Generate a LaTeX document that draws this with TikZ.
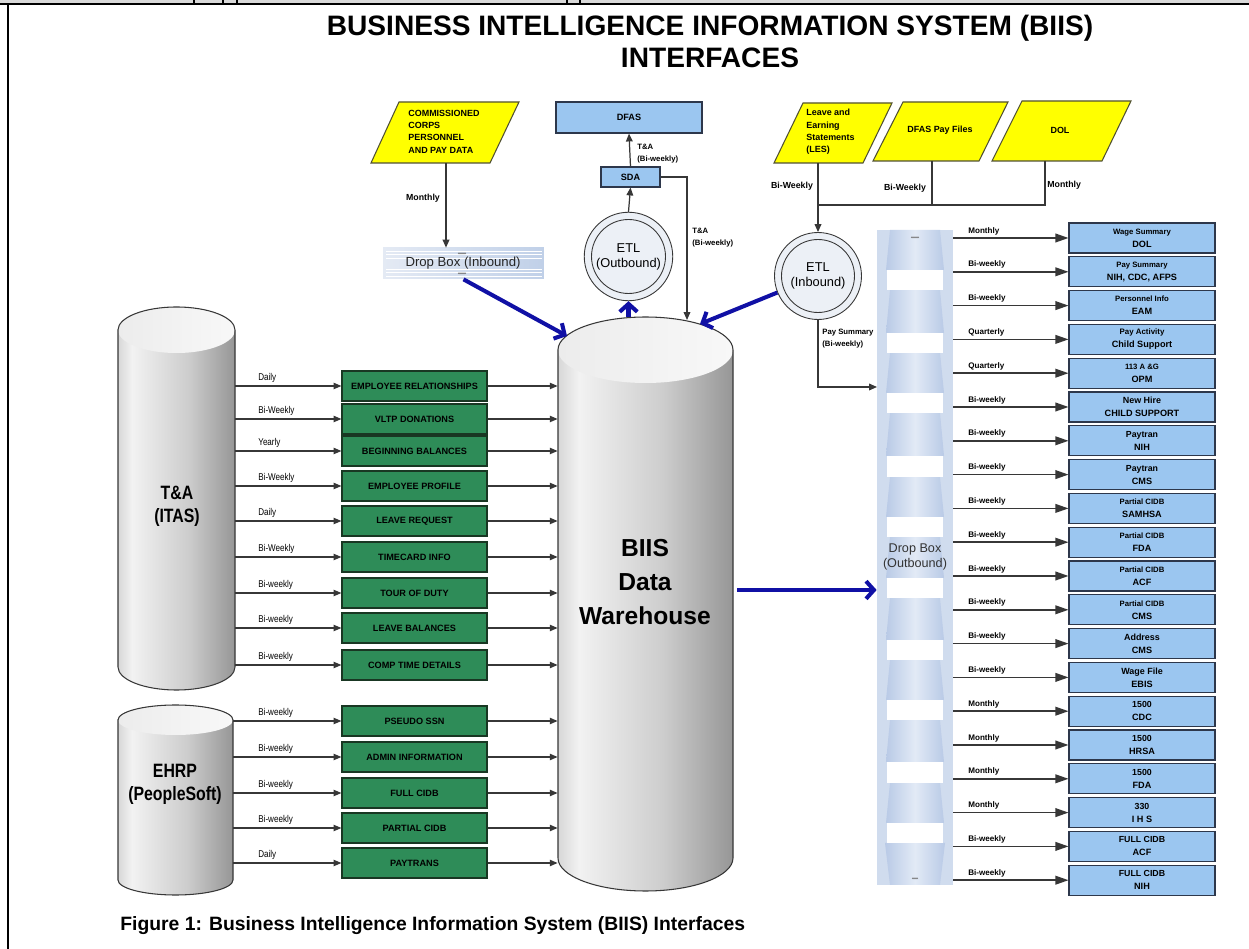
\documentclass[tikz,border=0pt]{standalone}
\usepackage{fontspec}
\setmainfont{Liberation Sans}
\newfontfamily\narrowsans[FakeStretch=0.82]{Liberation Sans}
\usetikzlibrary{arrows.meta}
\definecolor{paraYellow}{RGB}{255,255,0}
\definecolor{paraEdge}{RGB}{80,80,50}
\definecolor{boxBlue}{RGB}{155,198,240}
\definecolor{boxEdge}{RGB}{45,55,75}
\definecolor{boxGreen}{RGB}{46,140,88}
\definecolor{greenEdge}{RGB}{25,55,35}
\definecolor{flowBlue}{RGB}{16,16,165}
\definecolor{lineGray}{RGB}{55,55,55}
\definecolor{cylA}{RGB}{215,215,215}
\definecolor{cylB}{RGB}{242,242,242}
\definecolor{cylC}{RGB}{205,205,205}
\definecolor{cylD}{RGB}{150,150,150}
\definecolor{cylTopL}{RGB}{236,236,236}
\definecolor{cylTopR}{RGB}{248,248,248}
\definecolor{etlFill}{RGB}{236,240,246}
\definecolor{dbOuter}{RGB}{208,220,238}
\definecolor{dbEdge}{RGB}{185,202,230}
\definecolor{dbMid}{RGB}{226,234,246}
\definecolor{dibL}{RGB}{228,234,244}
\definecolor{dibR}{RGB}{192,208,232}
\definecolor{stripBg}{RGB}{217,217,217}
\pgfdeclarehorizontalshading{cylshade}{100bp}{color(0bp)=(cylA); color(25bp)=(cylA); color(31bp)=(cylB); color(55bp)=(cylC); color(75bp)=(cylD); color(100bp)=(cylD)}
\newcommand\boxlines[3]{{\fontsize{#1}{7.4}\selectfont #2}\\#3}
\newcommand\cylshape[5]{%
  \pgfmathsetmacro\cylrx{(#2-#1)/2}%
  \pgfmathsetmacro\cylxc{(#2+#1)/2}%
  \path[shading=cylshade] (#1,#3) -- (#1,#4) arc[start angle=180,end angle=0,x radius=\cylrx,y radius=#5] -- (#2,#3) arc[start angle=0,end angle=-180,x radius=\cylrx,y radius=#5] -- cycle;
  \shade[left color=cylTopL, right color=cylTopR] (\cylxc,#3) ellipse[x radius=\cylrx,y radius=#5];
  \path[cyledge] (#1,#3) -- (#1,#4) arc[start angle=180,end angle=0,x radius=\cylrx,y radius=#5] -- (#2,#3) arc[start angle=0,end angle=-180,x radius=\cylrx,y radius=#5] -- cycle;
}
\tikzset{
  thinline/.style={draw=lineGray, line width=0.7pt},
  tarrow/.style={thinline, -{Triangle[length=4.5pt,width=3.8pt]}},
  larrow/.style={draw=lineGray, line width=0.75pt, -{Triangle[length=4.5pt,width=3.6pt]}},
  rarrow/.style={draw=lineGray, line width=0.85pt, -{Triangle[length=7.5pt,width=5pt]}},
  flow/.style={draw=flowBlue, line width=2.3pt, -{Straight Barb[length=4.5pt,width=10pt]}},
  greenbox/.style={draw=greenEdge, line width=0.6pt, fill=boxGreen, minimum width=2.9cm, minimum height=0.6cm, inner sep=0pt, font=\bfseries\fontsize{5.2}{6}\selectfont},
  bluebox/.style={draw=boxEdge, line width=0.6pt, fill=boxBlue, minimum width=2.92cm, minimum height=0.6cm, inner sep=0pt, align=center, font=\bfseries\fontsize{5.2}{7.4}\selectfont},
  paraedge/.style={draw=paraEdge, line width=0.6pt, fill=paraYellow},
  paratext/.style={font=\bfseries\fontsize{5.1}{7}\selectfont, inner sep=0pt},
  llabel/.style={font=\narrowsans\fontsize{5.6}{6}\selectfont, inner sep=0pt, anchor=west},
  rlabel/.style={font=\bfseries\fontsize{4.6}{5}\selectfont, inner sep=0pt, anchor=west},
  smalllabel/.style={font=\bfseries\fontsize{4.4}{6.8}\selectfont, inner sep=0pt, align=left, anchor=west},
  midlabel/.style={font=\bfseries\fontsize{5}{6}\selectfont, inner sep=0pt},
  cyltext/.style={font=\narrowsans\bfseries\fontsize{11}{13}\selectfont, align=center, inner sep=0pt},
  etltext/.style={font=\fontsize{7.3}{8.5}\selectfont, align=center, inner sep=0pt},
  cyledge/.style={draw=lineGray, line width=0.6pt},
  holder/.style={draw=none, inner sep=0pt},
  bluesmall/.style={draw=boxEdge, line width=0.6pt, fill=boxBlue, inner sep=0pt, font=\bfseries\fontsize{5.2}{6}\selectfont},
}
\begin{document}
\begin{tikzpicture}[x=0.02cm,y=-0.02cm]
\useasboundingbox (0,0) rectangle (1249,949);
\fill[white] (0,0) rectangle (1249,949);
% frame remnants
\fill[stripBg] (0,0) rectangle (1249,4);
\draw[line width=1pt] (0,4) -- (1249,4);
\foreach \xx in {194,223,237,567,580} \draw[line width=0.6pt] (\xx,0) -- (\xx,4);
\draw[line width=1.1pt] (8,4) -- (8,949);

% title and caption
\node[font=\bfseries\fontsize{16}{18.2}\selectfont, align=center, inner sep=0pt] (title) at (710,41) {BUSINESS INTELLIGENCE INFORMATION SYSTEM (BIIS)\\INTERFACES};
\node[font=\bfseries\fontsize{11}{13}\selectfont, anchor=west, inner sep=0pt] (caption) at (120,926) {Figure 1: Business Intelligence Information System (BIIS) Interfaces};

% cylinders
\cylshape{118}{235}{330}{667}{23}
\cylshape{118}{233}{720}{880}{15}
\cylshape{558}{733}{350}{858}{33}
\node[holder, minimum width=2.34cm, minimum height=6.74cm] (ta) at (176.5,498.5) {};
\node[holder, minimum width=2.3cm, minimum height=3.2cm] (ehrp) at (175.5,800) {};
\node[holder, minimum width=3.5cm, minimum height=10.16cm] (biis) at (645.5,604) {};
\node[cyltext] (tatxt) at (177,506.5) {T\&A\\(ITAS)};
\node[cyltext] (ehrptxt) at (175,784.5) {EHRP\\(PeopleSoft)};
\node[font=\bfseries\fontsize{14}{19.5}\selectfont, align=center, inner sep=0pt] (biistxt) at (645,582) {BIIS\\Data\\Warehouse};

% yellow sources
\path[paraedge] (371,163) -- (399,102) -- (519,102) -- (490,163) -- cycle;
\path[paraedge] (774,163) -- (803,103) -- (892,103) -- (863,163) -- cycle;
\path[paraedge] (873,161) -- (903,102) -- (1008,102) -- (979,161) -- cycle;
\path[paraedge] (992,161) -- (1022,101) -- (1131,101) -- (1102,161) -- cycle;
\node[paratext, align=left, anchor=west] (cctxt) at (408,131.5) {COMMISSIONED\\CORPS\\PERSONNEL\\AND PAY DATA};
\node[paratext, align=left, anchor=west] (lestxt) at (806,132) {Leave and\\Earning\\Statements\\(LES)};
\node[paratext] (dfptxt) at (940,130) {DFAS Pay Files};
\node[paratext] (doltxt) at (1060,130) {DOL};
\coordinate (ccb) at (446,163);
\coordinate (lesb) at (818,163);
\coordinate (dfpb) at (932,161);
\coordinate (dolb) at (1045,161);
\coordinate (junc) at (818,205);

% drop box inbound
\node[holder, minimum width=3.22cm, minimum height=0.62cm, left color=dibL, right color=dibR] (dropin) at (463.5,263.5) {};
\foreach \yy in {251,254.5,258,269,272.5,276} \draw[white, line width=0.5pt] (386,\yy) -- (542,\yy);
\node[font=\fontsize{7.5}{9}\selectfont, inner sep=0pt, text=black!85] (dropintxt) at (463,263.5) {Drop Box (Inbound)};
\draw[black!55, line width=0.3pt] (458,254) -- (459,252.8) -- (460,254) -- (461,252.8) -- (462,254) -- (463,252.8) -- (464,254) -- (465,252.8) -- (466,254);
\draw[black!55, line width=0.3pt] (458,274) -- (459,272.8) -- (460,274) -- (461,272.8) -- (462,274) -- (463,272.8) -- (464,274) -- (465,272.8) -- (466,274);

% DFAS / SDA / ETL outbound
\node[bluesmall, minimum width=2.92cm, minimum height=0.62cm] (dfas) at (629,117.5) {DFAS};
\node[bluesmall, minimum width=1.18cm, minimum height=0.4cm] (sda) at (630.5,177) {SDA};
\node[circle, draw=lineGray, line width=0.5pt, fill=etlFill, minimum size=1.77cm, inner sep=0pt] (etlout) at (628.5,256.5) {};
\node[circle, draw=lineGray, line width=0.5pt, minimum size=1.48cm, inner sep=0pt, etltext] (etloutin) at (628.5,256.5) {ETL\\(Outbound)};
\node[circle, draw=lineGray, line width=0.5pt, fill=etlFill, minimum size=1.74cm, inner sep=0pt] (etlin) at (818,276) {};
\node[circle, draw=lineGray, line width=0.5pt, minimum size=1.46cm, inner sep=0pt, etltext] (etlinin) at (818,276) {ETL\\(Inbound)};

% drop box outbound
\node[holder, fill=dbOuter, minimum width=1.52cm, minimum height=13.1cm] (dropout) at (915,557.5) {};
\foreach \ya/\yb in {230/270, 290/333, 353/393, 413/456, 477/517, 537/578, 598/640, 660/700, 720/762, 783/823}
  \shade[left color=dbEdge, right color=dbEdge, middle color=dbMid] (890,\ya) -- (940,\ya) -- (944,\yb) -- (886,\yb) -- cycle;
\shade[left color=dbEdge, right color=dbEdge, middle color=dbMid] (885,843) -- (945,843) -- (940,885) -- (890,885) -- cycle;
\foreach \ya/\yb in {270/290, 333/353, 393/413, 456/477, 517/537, 578/598, 640/660, 700/720, 762/783, 823/843}
  \fill[white] (887,\ya) rectangle (943,\yb);
\node[font=\fontsize{7.2}{8.5}\selectfont, align=center, text=black!80, inner sep=0pt] (dropouttxt) at (915,556.5) {Drop Box\\(Outbound)};
\draw[black!55, line width=0.3pt] (911,238) -- (912,236.8) -- (913,238) -- (914,236.8) -- (915,238) -- (916,236.8) -- (917,238) -- (918,236.8) -- (919,238);
\draw[black!55, line width=0.3pt] (912,879) -- (913,877.8) -- (914,879) -- (915,877.8) -- (916,879) -- (917,877.8) -- (918,879);

% points on the warehouse top
\coordinate (bt0) at (628.5,317);
\coordinate (bt1) at (567,336);
\coordinate (bt3) at (687,320);
\coordinate (bt4) at (700,324);
\coordinate (bo) at (737,590);
\coordinate (psy) at (877,387);

% top connectors
\draw[tarrow] (ccb) -- (ccb |- dropin.north);
\node[midlabel] (lmon) at (423,198) {Monthly};
\draw[tarrow] (sda.north) -- (dfas.south);
\draw[tarrow] (etlout.north) -- (sda.south);
\draw[tarrow] (sda.east) -| (bt3);
\node[smalllabel] (lta1) at (637,153.5) {T\&A\\(Bi-weekly)};
\node[smalllabel] (lta2) at (692,238) {T\&A\\(Bi-weekly)};
\draw[tarrow] (lesb) -- (etlin.north);
\draw[thinline] (dfpb) -- (dfpb |- junc);
\draw[thinline] (dolb) -- (dolb |- junc) -- (junc);
\node[midlabel] (lbw1) at (792,186) {Bi-Weekly};
\node[midlabel] (lbw2) at (905,188) {Bi-Weekly};
\node[midlabel, anchor=west] (lmon2) at (1047,185) {Monthly};
\draw[tarrow] (etlin.south) |- (psy);
\node[smalllabel] (lps) at (822,339) {Pay Summary\\(Bi-weekly)};

% blue flows
\draw[flow] (bt0) -- (etlout.south);
\draw[flow] (dropin.south) -- (bt1);
\draw[flow] (etlin) -- (bt4);
\draw[flow] (bo) -- (bo -| dropout.west);

% T&A rows
\foreach \yy/\lab/\txt [count=\i] in {386/Daily/EMPLOYEE RELATIONSHIPS, 419/Bi-Weekly/VLTP DONATIONS, 451/Yearly/BEGINNING BALANCES, 486/Bi-Weekly/EMPLOYEE PROFILE, 521/Daily/LEAVE REQUEST, 557/Bi-Weekly/TIMECARD INFO, 593/Bi-weekly/TOUR OF DUTY, 628/Bi-weekly/LEAVE BALANCES, 665/Bi-weekly/COMP TIME DETAILS}{
  \node[greenbox] (ga\i) at (414.5,\yy) {\txt};
  \draw[larrow] (ta.east |- ga\i.west) -- (ga\i.west);
  \draw[larrow] (ga\i.east) -- (ga\i.east -| biis.west);
  \node[llabel] (lla\i) at (258,\yy-8) {\lab};
}
% EHRP rows
\foreach \yy/\lab/\txt [count=\i] in {721/Bi-weekly/PSEUDO SSN, 757/Bi-weekly/ADMIN INFORMATION, 793/Bi-weekly/FULL CIDB, 828/Bi-weekly/PARTIAL CIDB, 863/Daily/PAYTRANS}{
  \node[greenbox] (gb\i) at (414.5,\yy) {\txt};
  \draw[larrow] (ehrp.east |- gb\i.west) -- (gb\i.west);
  \draw[larrow] (gb\i.east) -- (gb\i.east -| biis.west);
  \node[llabel] (llb\i) at (258,\yy-8) {\lab};
}
% outbound rows
\foreach \lab/\sz/\lineA/\lineB [count=\i from 0] in {Monthly/4.4/Wage Summary/DOL, Bi-weekly/4.4/Pay Summary/{NIH, CDC, AFPS}, Bi-weekly/4.4/Personnel Info/EAM, Quarterly/4.5/Pay Activity/Child Support, Quarterly/4.4/113 A \&G/OPM, Bi-weekly/5.1/New Hire/CHILD SUPPORT, Bi-weekly/5/Paytran/NIH, Bi-weekly/5/Paytran/CMS, Bi-weekly/4.4/Partial CIDB/SAMHSA, Bi-weekly/4.4/Partial CIDB/FDA, Bi-weekly/4.4/Partial CIDB/ACF, Bi-weekly/4.4/Partial CIDB/CMS, Bi-weekly/5.1/Address/CMS, Bi-weekly/5.1/Wage File/EBIS, Monthly/5/1500/CDC, Monthly/5/1500/HRSA, Monthly/5/1500/FDA, Monthly/5/330/I H S, Bi-weekly/5/FULL CIDB/ACF, Bi-weekly/5/FULL CIDB/NIH}{
  \pgfmathsetmacro\yy{238+33.8*\i}
  \node[bluebox] (rb\i) at (1142,\yy) {\boxlines{\sz}{\lineA}{\lineB}};
  \draw[rarrow] (dropout.east |- rb\i.west) -- (rb\i.west);
  \node[rlabel] (rl\i) at (968,\yy-7) {\lab};
}
\end{tikzpicture}
\end{document}
